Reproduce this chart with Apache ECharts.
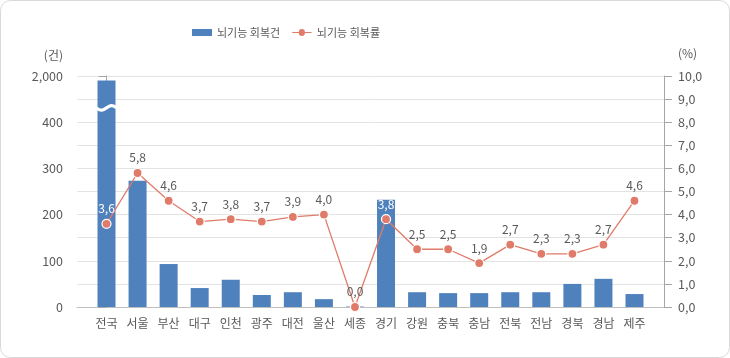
<!DOCTYPE html>
<html><head><meta charset="utf-8">
<script src="https://cdn.jsdelivr.net/npm/echarts@6/dist/echarts.min.js"></script>
<style>html,body{margin:0;padding:0;background:#fff}#c{width:730px;height:358px}</style>
</head><body><div id="c"></div>
<script>
// ---- data ----
const categories = ['전국','서울','부산','대구','인천','광주','대전','울산','세종','경기','강원','충북','충남','전북','전남','경북','경남','제주'];
const recoveryCounts = [1900, 273, 93, 41, 59, 26, 32, 17, 1, 232, 32, 30, 30, 32, 32, 50, 61, 28];
const recoveryRates = [3.6, 5.8, 4.6, 3.7, 3.8, 3.7, 3.9, 4.0, 0.0, 3.8, 2.5, 2.5, 1.9, 2.7, 2.3, 2.3, 2.7, 4.6];
const leftTicks = [0, 100, 200, 300, 400];
const leftTopLabel = '2,000';
const whiteLabelCats = ['전국', '경기'];
const seriesNames = ['뇌기능 회복건', '뇌기능 회복률'];
const axisNames = ['(건)', '(%)'];

// broken left axis: 0..400 linear, upper segment 450..500 <-> 1,500..2,000
function toDisplay(v) { return v <= 400 ? v : 450 + (v - 1500) / 10; }
const fmt = v => v.toFixed(1).replace('.', ',');

const FONT = 'Noto Sans CJK KR';
const TXT = '#595959';
const BAR = '#4f81bd';
const LINE = '#e07b6a';
const LINE_ICON = 'path://M0 3h7.2a3.3 3.3 0 0 1 6.6 0H21v1h-7.2a3.3 3.3 0 0 1 -6.6 0H0z';

const chart = echarts.init(document.getElementById('c'), null, {renderer: 'canvas'});
const option = {
  animation: false,
  textStyle: {fontFamily: FONT},
  legend: {
    top: 22, left: 187, itemGap: 12, itemWidth: 20, itemHeight: 7,
    textStyle: {color: TXT, fontSize: 11, fontFamily: FONT},
    data: [{name: seriesNames[0], icon: 'rect'}, {name: seriesNames[1], icon: LINE_ICON, itemStyle: {color: LINE, borderWidth: 0}}]
  },
  grid: {left: 77, right: 66, top: 76, bottom: 51},
  xAxis: {
    type: 'value', min: -0.95, max: 17.95,
    splitLine: {show: false},
    axisLine: {show: true, lineStyle: {color: '#bfbfbf'}},
    axisTick: {show: false},
    axisLabel: {
      customValues: categories.map((c, i) => i),
      formatter: v => categories[Math.round(v)] || '',
      color: TXT, fontSize: 12, fontFamily: FONT, margin: 10
    }
  },
  yAxis: [{
    type: 'value', min: 0, max: 500, interval: 50,
    axisLine: {show: true, lineStyle: {color: '#a6a6a6'}},
    axisTick: {show: true, inside: false, length: 8, lineStyle: {color: '#a6a6a6'}},
    axisLabel: {
      color: TXT, fontSize: 12.5, fontFamily: FONT, margin: 14,
      formatter: v => v === 500 ? leftTopLabel : (leftTicks.includes(v) ? String(v) : '')
    },
    splitLine: {show: true, lineStyle: {color: '#e3e3e3'}}
  }, {
    type: 'value', min: 0, max: 10, interval: 1,
    axisLine: {show: true, lineStyle: {color: '#a6a6a6'}},
    axisTick: {show: true, length: 8, lineStyle: {color: '#a6a6a6'}},
    axisLabel: {color: TXT, fontSize: 12.5, fontFamily: FONT, margin: 14, formatter: v => fmt(v)},
    splitLine: {show: false}
  }],
  series: [{
    name: seriesNames[0], type: 'bar', xAxisIndex: 0, yAxisIndex: 0,
    barWidth: 18, itemStyle: {color: BAR},
    data: recoveryCounts.map((v, i) => [i, toDisplay(v)]),
    z: 2
  }, {
    name: seriesNames[1], type: 'line', xAxisIndex: 0, yAxisIndex: 1,
    symbol: 'circle', symbolSize: 9,
    lineStyle: {color: LINE, width: 1.3},
    itemStyle: {color: LINE, borderColor: '#fff', borderWidth: 1.2},
    label: {show: true, position: 'top', distance: 4, color: TXT, fontSize: 12, fontFamily: FONT, formatter: p => fmt(p.value[1])},
    data: recoveryRates.map((v, i) => whiteLabelCats.includes(categories[i])
      ? {value: [i, v], label: {color: '#fff'}}
      : [i, v]),
    z: 3
  }]
};
chart.setOption(option);

// axis names and break decorations, positioned through the axes
const ax = chart.convertToPixel({xAxisIndex: 0}, 0);
const axLeft = chart.convertToPixel({xAxisIndex: 0}, -0.95);
const axRight = chart.convertToPixel({xAxisIndex: 0}, 17.95);
const yTop = chart.convertToPixel({yAxisIndex: 0}, 500);
const yA = chart.convertToPixel({yAxisIndex: 0}, 442);
const yB = chart.convertToPixel({yAxisIndex: 0}, 429);
const yW = chart.convertToPixel({yAxisIndex: 0}, 431);
const hw = 10;
chart.setOption({
  graphic: [
    {type: 'rect', silent: true, shape: {x: 0.5, y: 0.5, width: 729, height: 357, r: 10},
     style: {fill: 'none', stroke: '#d9d9d9', lineWidth: 1}, z: 100},
    {type: 'text', silent: true, x: axLeft - 14, y: yTop - 21,
     style: {text: axisNames[0], fill: TXT, font: '12px "' + FONT + '"', align: 'right', verticalAlign: 'middle'}},
    {type: 'text', silent: true, x: axRight + 14, y: yTop - 23,
     style: {text: axisNames[1], fill: TXT, font: '12px "' + FONT + '"', align: 'left', verticalAlign: 'middle'}},
    {type: 'rect', silent: true, shape: {x: axLeft - 2, y: yA, width: 4, height: yB - yA},
     style: {fill: '#fff'}, z: 100},
    {type: 'bezierCurve', silent: true,
     shape: {x1: ax - hw, y1: yW, x2: ax + hw, y2: yW, cpx1: ax - 2, cpy1: yW + 8, cpx2: ax + 2, cpy2: yW - 8},
     style: {stroke: '#fff', lineWidth: 3.2, fill: 'none'}, z: 100}
  ]
});
</script></body></html>
